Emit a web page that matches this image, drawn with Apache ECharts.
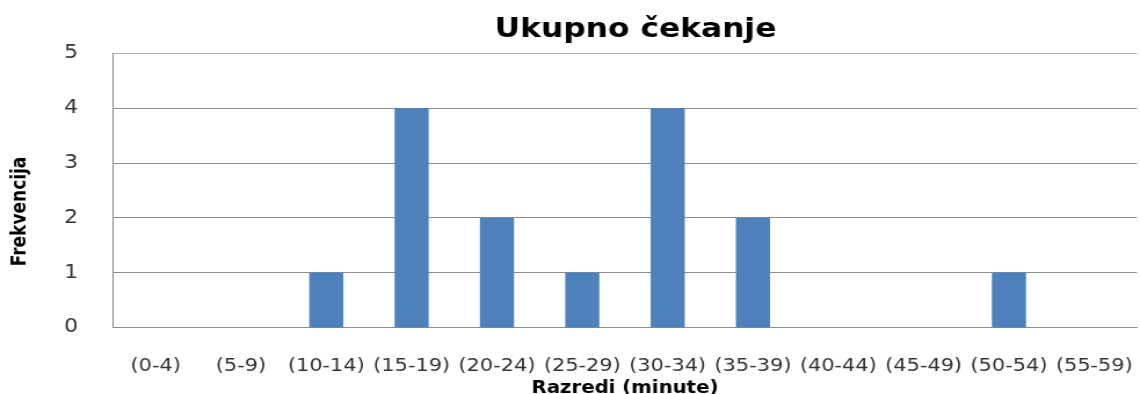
<!DOCTYPE html>
<html>
<head>
<meta charset="utf-8">
<style>
  html, body { margin: 0; padding: 0; background: #fff; overflow: hidden; }
  /* the chart is laid out narrower and widened horizontally, giving the wide lettering */
  #chart { width: 983px; height: 394px; transform: scaleX(1.1597); transform-origin: 0 0; }
</style>
<script src="https://cdn.jsdelivr.net/npm/echarts@6/dist/echarts.min.js"></script>
</head>
<body>
<div id="chart"></div>
<script>
// Frequency of total waiting time, grouped in 5-minute classes
const categories = ['(0-4)', '(5-9)', '(10-14)', '(15-19)', '(20-24)', '(25-29)',
                    '(30-34)', '(35-39)', '(40-44)', '(45-49)', '(50-54)', '(55-59)'];
const frequencies = [0, 0, 1, 4, 2, 1, 4, 2, 0, 0, 1, 0];
const yTicks = { min: 0, max: 5, step: 1 };

const chart = echarts.init(document.getElementById('chart'), null, { renderer: 'canvas' });

chart.setOption({
  animation: false,
  backgroundColor: '#ffffff',
  title: {
    text: 'Ukupno čekanje',
    left: 543,
    textAlign: 'center',
    top: 11,
    textStyle: {
      fontFamily: 'DejaVu Sans',
      fontWeight: 'bold',
      fontSize: 27,
      color: '#000000'
    }
  },
  grid: { left: 97.4, right: 2.6, top: 53, bottom: 66.5, containLabel: false, outerBoundsMode: 'none' },
  graphic: [{
    type: 'text',
    x: 18,
    y: 211.5,
    rotation: Math.PI / 2,
    style: {
      text: 'Frekvencija',
      fontFamily: 'DejaVu Sans',
      fontWeight: 'bold',
      fontSize: 17,
      fill: '#000000',
      align: 'center',
      verticalAlign: 'middle'
    }
  }],
  xAxis: {
    type: 'category',
    data: categories,
    name: 'Razredi (minute)',
    nameLocation: 'middle',
    nameGap: 50,
    nameTextStyle: {
      fontFamily: 'DejaVu Sans',
      fontWeight: 'bold',
      fontSize: 17,
      color: '#000000'
    },
    axisLine: { show: true, lineStyle: { color: '#8c8c8c', width: 1 } },
    axisTick: { show: false },
    axisLabel: {
      interval: 0,
      margin: 30,
      fontFamily: 'DejaVu Sans',
      fontSize: 18,
      color: '#333333'
    }
  },
  yAxis: {
    type: 'value',
    min: yTicks.min,
    max: yTicks.max,
    interval: yTicks.step,
    axisLine: { show: true, lineStyle: { color: '#8c8c8c', width: 1 } },
    axisTick: { show: false },
    splitLine: {
      show: true,
      lineStyle: { color: ['#8c8c8c', '#8c8c8c', '#8c8c8c', '#8c8c8c', '#8c8c8c', '#b0b0b0'], width: 1 }
    },
    axisLabel: {
      margin: 30,
      fontFamily: 'DejaVu Sans',
      fontSize: 19,
      color: '#333333'
    }
  },
  series: [{
    type: 'bar',
    data: frequencies,
    barWidth: '40%',
    itemStyle: { color: '#4f81bd' }
  }]
});
</script>
</body>
</html>
